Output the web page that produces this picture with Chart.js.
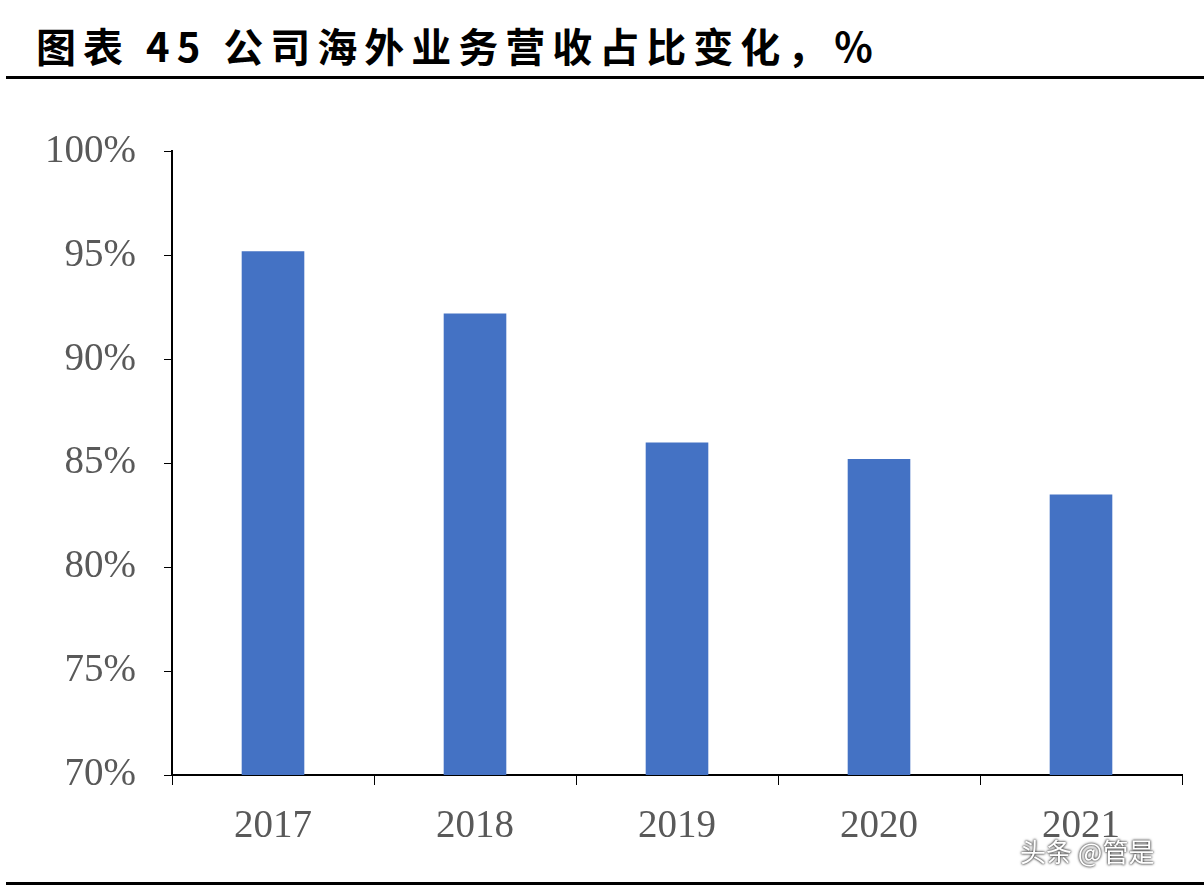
<!DOCTYPE html>
<html><head><meta charset="utf-8">
<script src="https://cdn.jsdelivr.net/npm/chart.js@4/dist/chart.umd.min.js"></script>
<style>
body{margin:0;width:1204px;height:888px;background:#fff;position:relative;overflow:hidden}
#title{position:absolute;left:36px;top:16px;font:bold 40px "Noto Sans CJK SC",sans-serif;color:#000;letter-spacing:7px}
#l1{position:absolute;left:6px;right:0;top:76px;height:3px;background:#000}
#l2{position:absolute;left:6px;right:0;top:882px;height:3px;background:#000}
#box{position:absolute;left:0;top:100px;width:1204px;height:770px}
#wm{position:absolute;left:1020px;top:832px;font:26px "Noto Sans CJK SC",sans-serif;color:#fff;text-shadow:0 0 3px #333,0 0 2px #333}
</style></head><body>
<div id="title">图表 45 公司海外业务营收占比变化，%</div>
<div id="l1"></div>
<div id="box"><canvas id="c"></canvas></div>
<div id="l2"></div>
<div id="wm">头条 @管是</div>
<script>
const years = ["2017","2018","2019","2020","2021"];
const shares = [95.2, 92.2, 86.0, 85.2, 83.5];
const tickFont = {family:"Liberation Serif", size:39};

new Chart(document.getElementById("c"), {
  type:"bar",
  data:{labels:years, datasets:[{data:shares, backgroundColor:"#4472C4", barPercentage:0.31, categoryPercentage:1}]},
  options:{
    responsive:true, maintainAspectRatio:false, animation:false,
    layout:{padding:{top:50, right:22}},
    plugins:{legend:{display:false}, tooltip:{enabled:false}},
    scales:{
      y:{min:70, max:100,
        ticks:{stepSize:5, color:"#595959", font:tickFont, padding:28, callback:v=>v+"%"},
        grid:{drawOnChartArea:false, color:"#000", tickLength:8, tickColor:"#000"},
        border:{color:"#000", width:2},
        afterFit:s=>{s.width=172;}
      },
      x:{
        ticks:{color:"#595959", font:tickFont, padding:18},
        grid:{offset:true, drawOnChartArea:false, tickLength:10, tickColor:"#000"},
        border:{color:"#000", width:2},
        afterFit:s=>{s.height=95;}
      }
    }
  }
});
</script>
</body></html>
